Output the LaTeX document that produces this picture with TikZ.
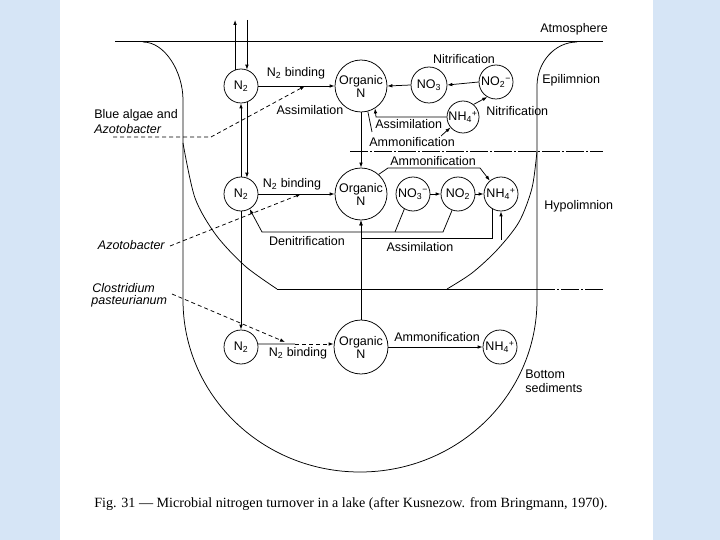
\documentclass[tikz,border=0pt]{standalone}
\usepackage{fontspec}
\setmainfont{Liberation Sans}
\newfontfamily\capfont{Liberation Serif}
\usetikzlibrary{arrows.meta}
\definecolor{bgblue}{RGB}{214,229,246}
\newcommand\ssub[2]{\textsubscript{#1}\textsuperscript{#2}}
\begin{document}
\begin{tikzpicture}[x=1pt,y=-1pt,line width=0.75pt,
  every node/.style={font=\fontsize{12.5}{13}\selectfont, inner sep=0pt},
  ital/.style={font=\fontsize{12.5}{13}\selectfont\itshape},
  sm/.style={draw, circle, minimum size=34pt, inner sep=0pt},
  lg/.style={draw, circle, minimum size=52pt, inner sep=0pt, align=center},
  arr/.style={-{Latex[length=5pt,width=3.6pt]}},
  dasharr/.style={dash pattern=on 4pt off 3pt, -{Latex[length=5pt,width=3.6pt]}},
  thermo/.style={dash pattern=on 18pt off 2pt on 2pt off 2pt}]
\useasboundingbox (0,0) rectangle (720,540);
\fill[bgblue] (0,0) rectangle (720,540);
\fill[white] (60,0) rectangle (653,540);

% lake outline
\draw (115,41) -- (603,41);
\draw (143,42) .. controls (165,42) and (183,72) .. (183,100) -- (183,300)
  .. controls (183,395) and (262,472) .. (360,472)
  .. controls (458,472) and (537,395) .. (537,300) -- (537,86)
  .. controls (537,62) and (555,42) .. (577,42);
\draw plot[smooth] coordinates {(183,143) (195,198) (216,235) (245,266) (277,289)};
\draw plot[smooth] coordinates {(537,151) (532,188) (519,222) (497,250) (472,273) (447,289)};
\draw (277,289) -- (537,289);
\draw[thermo] (537,289) -- (603,289);
\draw[thermo] (350,151) -- (603,151);

% nodes
\node[sm] (n2a) at (241,86) {N\textsubscript{2}};
\node[lg] (orga) at (361,86) {Organic\\N};
\node[sm,minimum size=36pt] (no3a) at (429,85) {NO\textsubscript{3}};
\node[sm] (no2a) at (496,82) {NO\ssub{2}{−}};
\node[sm,minimum size=32pt] (nh4a) at (463,117) {NH\ssub{4}{+}};
\node[sm] (n2b) at (241,194) {N\textsubscript{2}};
\node[lg] (orgb) at (361,194) {Organic\\N};
\node[sm] (no3b) at (413,194) {NO\ssub{3}{−}};
\node[sm] (no2b) at (458,194) {NO\textsubscript{2}};
\node[sm] (nh4b) at (501,194) {NH\ssub{4}{+}};
\node[sm] (n2c) at (241,347) {N\textsubscript{2}};
\node[lg,minimum size=54pt] (orgc) at (361,347) {Organic\\N};
\node[sm] (nh4c) at (500,347) {NH\ssub{4}{+}};

% coordinates
\coordinate (atop) at (241,20);
\coordinate (bind1) at (305,86);
\coordinate (ba) at (113,137);
\coordinate (ba2) at (211,137);
\coordinate (am1) at (372,132);
\coordinate (am2) at (441,136);
\coordinate (as1) at (376,117);
\coordinate (amb1) at (388,168);
\coordinate (amb2) at (480,168);
\coordinate (den1) at (443,232);
\coordinate (den2) at (262,232);
\coordinate (den3) at (395,232);
\coordinate (asb) at (493,238);
\coordinate (nh4up) at (501,240);
\coordinate (az) at (170,246);
\coordinate (bind2) at (301,194);
\coordinate (cl) at (172,294);
\coordinate (bind3) at (285,342);
\coordinate (b3) at (295,344);

% top connectors
\draw[arr] (n2a.110) -- (n2a.110 |- atop);
\draw[arr] (n2a.70 |- atop) -- (n2a.70);
\draw[arr] (n2a.east) -- (orga.west);
\draw[dasharr] (ba) -- (ba2) -- (bind1);
\draw[arr] (no3a.west) -- (orga.east);
\draw[arr] (no2a.west) -- (no3a.east);
\draw[arr] (nh4a.50) -- (no2a.-120);
\draw[arr] (nh4a.west) -- (as1) -- (orga.-58);
\draw (orga.-75) -- (am1);
\draw[arr] (am2) -- (nh4a.-140);
\draw[arr] (orga.south) -- (orgb.north);
\draw[arr] (n2b.north) -- (n2a.south);
\draw[arr] (n2a.-70) -- (n2b.70);

% middle connectors
\draw[arr] (n2b.east) -- (orgb.west);
\draw[dasharr] (az) -- (bind2);
\draw[arr] (orgb.48) -- (amb1) -- (amb2) -- (nh4b.130);
\draw[arr] (no3b.east) -- (no2b.west);
\draw[arr] (no2b.east) -- (nh4b.west);
\draw[arr] (no2b.-110) -- (den1) -- (den2) -- (n2b.-60);
\draw (no3b.-120) -- (den3);
\draw[arr] (nh4b.-118) -- (nh4b.-118 |- asb) -- (asb -| orgb.south) -- (orgb.south);
\draw[arr] (nh4up) -- (nh4b.south);
\draw[arr] (n2b.south) -- (n2c.north);

% bottom connectors
\draw (n2c.10) -- (b3);
\draw[dasharr] (b3) -- (orgc.west |- b3);
\draw[dasharr] (cl) -- (bind3);
\draw[arr] (orgc.north) -- (orgb.south);
\draw[arr] (orgc.east) -- (nh4c.west);

% labels
\node[anchor=west] (t1) at (540,29) {Atmosphere};
\node (t2) at (296,73) {N\textsubscript{2} binding};
\node (t3) at (310,110) {Assimilation};
\node[anchor=west] (t4) at (94,115) {Blue algae and};
\node[anchor=west,ital] (t5) at (94,129) {Azotobacter};
\node (t6) at (464,59) {Nitrification};
\node[anchor=west] (t7) at (542,80) {Epilimnion};
\node[anchor=west] (t8) at (486,111) {Nitrification};
\node[anchor=west] (t9) at (375,124) {Assimilation};
\node[anchor=west] (t10) at (369,142) {Ammonification};
\node[anchor=west] (t11) at (390,161) {Ammonification};
\node (t12) at (292,184) {N\textsubscript{2} binding};
\node[anchor=west] (t13) at (544,206) {Hypolimnion};
\node[anchor=east,ital] (t14) at (165,245) {Azotobacter};
\node (t15) at (307,241) {Denitrification};
\node (t16) at (420,247) {Assimilation};
\node[anchor=west,ital] (t17) at (92,288) {Clostridium};
\node[anchor=west,ital] (t18) at (91,301) {pasteurianum};
\node (t19) at (298,353) {N\textsubscript{2} binding};
\node (t20) at (437,337) {Ammonification};
\node[anchor=west] (t21) at (525,374) {Bottom};
\node[anchor=west] (t22) at (525,388) {sediments};
\node[font=\capfont\fontsize{14.1}{16}\selectfont] (cap) at (351,504) {Fig. 31 — Microbial nitrogen turnover in a lake (after Kusnezow. from Bringmann, 1970).};
\end{tikzpicture}
\end{document}
